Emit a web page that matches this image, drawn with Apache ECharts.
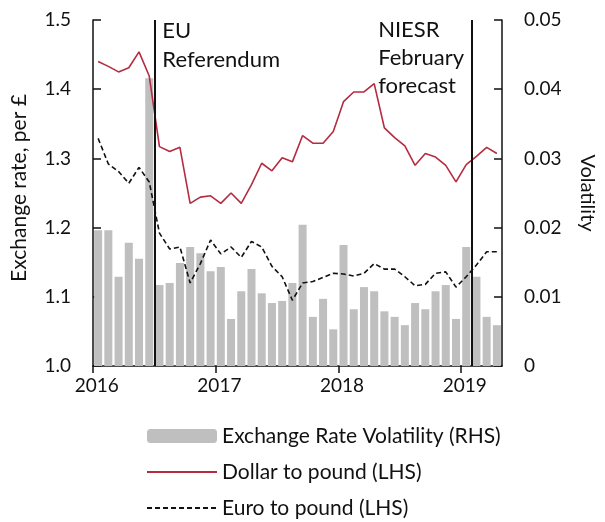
<!DOCTYPE html>
<html>
<head>
<meta charset="utf-8">
<title>Exchange rates and volatility</title>
<script src="https://cdn.jsdelivr.net/npm/echarts@6/dist/echarts.min.js"></script>
<style>
  html, body { margin: 0; padding: 0; background: #fff; }
  #chart { width: 605px; height: 522px; }
</style>
</head>
<body>
<div id="chart"></div>
<script>
// 起始年份，按月份排列（2016年1月 - 2019年4月）
const startYear = 2016;

// 汇率波动（右轴）
const volatility = [
  0.0196, 0.0196, 0.0129, 0.0178, 0.0155, 0.0416, 0.0117, 0.0120, 0.0149, 0.0172, 0.0163, 0.0137,
  0.0143, 0.0068, 0.0108, 0.0140, 0.0105, 0.0091, 0.0094, 0.0120, 0.0204, 0.0071, 0.0097, 0.0053,
  0.0175, 0.0082, 0.0114, 0.0108, 0.0079, 0.0071, 0.0059, 0.0091, 0.0082, 0.0108, 0.0117, 0.0068,
  0.0172, 0.0129, 0.0071, 0.0059
];

// 美元兑英镑（左轴）
const dollar = [
  1.440, 1.433, 1.425, 1.431, 1.454, 1.419, 1.317, 1.310, 1.316, 1.235, 1.244, 1.246,
  1.235, 1.250, 1.235, 1.262, 1.293, 1.282, 1.301, 1.295, 1.333, 1.322, 1.322, 1.339,
  1.382, 1.396, 1.396, 1.408, 1.344, 1.330, 1.318, 1.290, 1.307, 1.302, 1.290, 1.266,
  1.291, 1.303, 1.316, 1.307
];

// 欧元兑英镑（左轴）
const euro = [
  1.329, 1.292, 1.281, 1.264, 1.287, 1.266, 1.192, 1.169, 1.172, 1.120, 1.148, 1.182,
  1.162, 1.172, 1.157, 1.180, 1.172, 1.144, 1.129, 1.095, 1.120, 1.122, 1.128, 1.134,
  1.133, 1.130, 1.134, 1.148, 1.140, 1.140, 1.129, 1.116, 1.118, 1.134, 1.136, 1.114,
  1.129, 1.146, 1.165, 1.165
];

// 年份刻度
const yearTicks = [2016, 2017, 2018, 2019];

// 事件竖线
const eventX = [2016.5, 2019.09];
const eventText = ['EU\nReferendum', 'NIESR\nFebruary\nforecast'];

const font = 'Lato, "DejaVu Sans", sans-serif';
const ink = '#111';
const red = '#b52b40';

// 每个月放在该月的中间
function monthX(i) {
  return startYear + (i + 0.5) / 12;
}
function pairs(arr) {
  return arr.map((v, i) => [monthX(i), v]);
}

const chart = echarts.init(document.getElementById('chart'));

const option = {
  animation: false,
  textStyle: { fontFamily: font, color: ink },
  grid: { left: 93, right: 95, top: 20, bottom: 156 },
  legend: {
    orient: 'vertical',
    left: 146,
    top: 425,
    height: 110,
    padding: 0,
    itemWidth: 70,
    itemHeight: 14,
    itemGap: 14,
    textStyle: { fontFamily: font, fontSize: 21, lineHeight: 22, color: ink },
    data: [
      { name: 'Exchange Rate Volatility (RHS)' },
      { name: 'Dollar to pound (LHS)', itemStyle: { opacity: 0 } },
      { name: 'Euro to pound (LHS)', itemStyle: { opacity: 0 } }
    ]
  },
  xAxis: {
    type: 'value',
    min: startYear,
    max: startYear + volatility.length / 12,
    splitLine: { show: false },
    axisLine: { lineStyle: { color: ink, width: 1.5 } },
    axisTick: {
      customValues: yearTicks,
      length: 7,
      lineStyle: { color: ink, width: 1.5 }
    },
    axisLabel: {
      customValues: yearTicks.map(y => y + 0.03),
      formatter: v => String(Math.floor(v)),
      fontSize: 19,
      color: ink,
      margin: 10
    }
  },
  yAxis: [
    {
      type: 'value',
      min: 1.0,
      max: 1.5,
      interval: 0.1,
      name: 'Exchange rate, per £',
      nameLocation: 'middle',
      nameGap: 63,
      nameTextStyle: { fontSize: 21, color: ink, fontFamily: font, padding: [0, 0, 0, 10] },
      splitLine: { show: false },
      axisLine: { show: true, lineStyle: { color: ink, width: 1.5 } },
      axisTick: { show: true, inside: true, length: 8, lineStyle: { color: ink, width: 1.5 } },
      axisLabel: {
        formatter: v => v.toFixed(1),
        fontSize: 19,
        color: ink,
        margin: 22
      }
    },
    {
      type: 'value',
      min: 0,
      max: 0.05,
      interval: 0.01,
      name: 'Volatility',
      nameLocation: 'middle',
      nameRotate: -90,
      nameGap: 75,
      nameTextStyle: { fontSize: 20, color: ink, fontFamily: font },
      splitLine: { show: false },
      axisLine: { show: true, lineStyle: { color: ink, width: 1.5 } },
      axisTick: { show: true, inside: true, length: 8, lineStyle: { color: ink, width: 1.5 } },
      axisLabel: {
        formatter: v => (v === 0 ? '0' : v.toFixed(2)),
        fontSize: 19,
        color: ink,
        margin: 22
      }
    }
  ],
  series: [
    {
      name: 'Exchange Rate Volatility (RHS)',
      type: 'bar',
      yAxisIndex: 1,
      barWidth: 8,
      itemStyle: { color: '#bfbfbf' },
      data: pairs(volatility),
      z: 1
    },
    {
      name: 'Dollar to pound (LHS)',
      type: 'line',
      yAxisIndex: 0,
      symbol: 'none',
      lineStyle: { color: red, width: 1.6 },
      itemStyle: { color: red },
      data: pairs(dollar),
      z: 3,
      markLine: {
        silent: true,
        symbol: 'none',
        label: { show: false },
        lineStyle: { color: ink, width: 2, type: 'solid' },
        data: eventX.map(x => ({ xAxis: x }))
      }
    },
    {
      name: 'Euro to pound (LHS)',
      type: 'line',
      yAxisIndex: 0,
      symbol: 'none',
      lineStyle: { color: ink, width: 1.6, type: [5, 3] },
      itemStyle: { color: ink },
      data: pairs(euro),
      z: 3
    }
  ]
};

chart.setOption(option);

// 事件说明文字，位置由坐标轴换算
const p1 = chart.convertToPixel({ gridIndex: 0 }, [eventX[0], 1.5]);
const p2 = chart.convertToPixel({ gridIndex: 0 }, [eventX[1], 1.5]);
chart.setOption({
  graphic: [
    {
      type: 'text',
      left: p1[0] + 8,
      top: p1[1] - 4,
      style: { text: eventText[0], fontFamily: font, fontSize: 22, lineHeight: 29, fill: ink }
    },
    {
      type: 'text',
      left: p2[0] - 94,
      top: p2[1] - 4,
      style: { text: eventText[1], fontFamily: font, fontSize: 22, lineHeight: 28, fill: ink }
    }
  ]
});

window.addEventListener('resize', function () {
  chart.resize();
});
</script>
</body>
</html>
